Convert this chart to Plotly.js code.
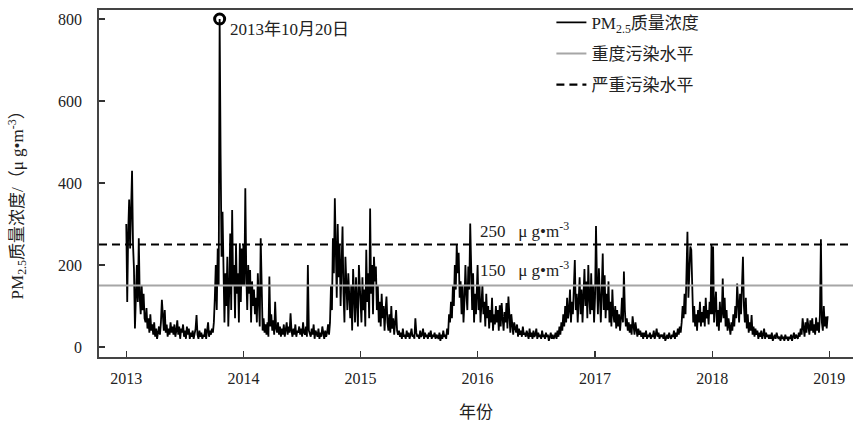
<!DOCTYPE html>
<html>
<head>
<meta charset="utf-8">
<script src="https://cdn.plot.ly/plotly-3.0.1.min.js"></script>
<style>html,body{margin:0;padding:0;background:#fff;}#chart{width:853px;height:425px;}</style>
</head>
<body>
<div id="chart"></div>
<script>
// PM2.5 daily concentration (sampled every 3 days), one array per year
const years = [2013, 2014, 2015, 2016, 2017, 2018];
const pm2013 = [300,110,280,360,240,380,430,250,190,45,160,
  200,110,265,120,80,150,90,130,70,
  60,95,45,70,35,80,40,55,30,60,
  25,45,20,35,50,30,60,115,70,40,
  90,35,55,25,45,30,60,35,50,30,
  55,25,40,65,30,50,20,45,35,55,
  25,40,20,50,30,45,20,35,25,40,
  20,35,45,78,30,20,40,25,35,20,
  30,25,45,20,35,60,25,40,30,45,
  35,60,120,200,90,240,150,800,470,220,330,
  120,60,180,100,220,50,140,277,90,334,150,
  200,70,250,130,180,60,253,110,240,150];
const pm2014 = [250,150,387,180,90,200,130,188,60,160,100,
  140,80,120,60,180,100,50,265,90,
  40,70,35,55,30,60,25,172,50,80,
  40,65,30,110,45,35,60,30,50,25,
  45,30,55,25,40,60,30,50,35,82,
  40,25,45,30,55,25,40,35,50,30,
  45,25,60,35,30,50,25,200,40,30,
  25,45,30,55,20,40,30,25,45,20,
  35,25,50,30,20,40,25,35,55,30,
  60,150,90,265,180,363,240,120,300,170,250,
  100,200,294,130,60,220,140,90,180,110,70,
  150,40,190,100,60,170,120,50,200];
const pm2015 = [120,60,170,90,140,50,237,110,180,70,338,
  130,200,80,220,160,196,90,150,60,
  110,50,130,70,100,40,90,123,60,40,
  80,35,100,45,70,30,60,90,40,30,
  40,25,35,20,45,25,30,20,40,25,
  35,20,30,45,25,30,20,70,35,25,
  30,20,40,25,30,45,20,35,25,30,
  20,35,25,40,20,30,25,35,20,30,
  25,20,35,15,30,20,40,25,30,20,
  45,30,80,60,110,70,150,100,200,140,250,
  180,230,120,160,80,150,60,110,200,130,90,
  196,140,301,150,90,180,60,130,80,150];
const pm2016 = [200,90,150,60,120,151,80,110,50,130,70,
  100,45,90,60,120,40,80,55,100,
  60,90,40,102,50,107,70,40,85,60,
  107,45,123,60,35,80,45,30,60,40,
  35,55,25,45,30,40,25,50,30,35,
  25,40,30,20,45,25,35,20,40,25,
  30,45,20,35,25,30,20,40,25,30,
  20,35,25,30,15,25,35,20,30,20,
  25,35,20,40,25,50,30,60,40,80,
  50,100,60,120,70,90,140,60,110,80,150,
  212,90,130,60,110,170,80,140,60,120,190,
  100,160,70,200,120,80,180,90,150,60];
const pm2017 = [120,295,160,80,192,110,60,140,228,90,175,
  70,130,90,160,60,110,50,140,80,
  60,100,45,90,50,80,40,70,120,60,
  184,90,50,70,40,60,35,55,30,75,
  45,30,60,35,25,45,30,40,25,35,
  20,35,25,40,20,30,25,35,20,30,
  25,40,20,30,45,25,35,20,30,25,
  30,20,35,15,25,30,20,35,25,20,
  30,25,40,20,35,25,45,30,50,35,
  60,100,70,130,80,160,281,120,200,245,237,
  150,60,100,50,80,40,90,60,110,50,85,
  60,100,50,120,70,90,55,110,80,249];
const pm2018 = [80,245,60,100,135,50,90,40,110,60,80,
  167,70,120,50,90,40,70,55,30,
  60,40,80,50,100,70,155,90,60,130,
  80,150,220,100,60,120,45,80,35,60,
  40,78,30,50,25,45,30,40,20,35,
  25,40,20,30,45,20,35,25,30,20,
  30,20,35,15,25,30,20,35,25,20,
  25,15,30,20,25,15,30,20,25,15,
  25,20,30,15,25,35,20,30,25,20,
  35,25,45,30,70,40,25,60,35,70,40,
  30,65,40,70,35,55,30,72,40,60,35,
  80,263,60,40,100,50,74,45,75];
const seriesByYear = [pm2013, pm2014, pm2015, pm2016, pm2017, pm2018];
const stepDays = 3;

const levelHeavy = 150;   // 重度污染水平
const levelSevere = 250;  // 严重污染水平
const peakLabel = '2013年10月20日';
const xTickYears = ['2013','2014','2015','2016','2017','2018','2019'];

// Build dated series
function iso(d){ return d.toISOString().slice(0,10); }
const xs = [], ys = [];
years.forEach((yr, k) => {
  const arr = seriesByYear[k];
  const start = Date.UTC(yr, 0, 1);
  arr.forEach((v, i) => {
    xs.push(iso(new Date(start + i * stepDays * 86400000)));
    ys.push(v);
  });
});
let peakIdx = 0;
ys.forEach((v, i) => { if (v > ys[peakIdx]) peakIdx = i; });

const xRange = ['2012-10-08', '2019-03-16'];
const fontFam = '"Liberation Serif", "Times New Roman", "Noto Sans CJK SC", serif';
const txtCol = '#222';

const traces = [
  {x: xs, y: ys, type: 'scatter', mode: 'lines', name: 'PM<sub>2.5</sub>质量浓度',
   line: {color: '#000', width: 1.8}, legendgroup: 'a'},
  {x: xRange, y: [levelHeavy, levelHeavy], type: 'scatter', mode: 'lines', name: '重度污染水平',
   line: {color: '#a6a6a6', width: 2}, legendgroup: 'b'},
  {x: xRange, y: [levelSevere, levelSevere], type: 'scatter', mode: 'lines', name: '严重污染水平',
   line: {color: '#000', width: 2.2, dash: '8px,5px'}, legendgroup: 'c'},
  {x: [xs[peakIdx]], y: [ys[peakIdx]], type: 'scatter', mode: 'markers', showlegend: false,
   marker: {symbol: 'circle-open', size: 10, color: '#000', line: {width: 3, color: '#000'}}}
];

const layout = {
  width: 853, height: 425,
  margin: {l: 99, r: 0, t: 10, b: 68},
  paper_bgcolor: '#fff', plot_bgcolor: '#fff',
  font: {family: fontFam, size: 16, color: txtCol},
  showlegend: true,
  legend: {x: 0.6, y: 1.015, xanchor: 'left', yanchor: 'top', bgcolor: 'rgba(0,0,0,0)',
    font: {family: fontFam, size: 17, color: txtCol}, tracegroupgap: 6},
  xaxis: {type: 'date', range: xRange, tickvals: xTickYears.map(y => y + '-01-01'), ticktext: xTickYears,
    ticks: 'inside', ticklen: 6, tickwidth: 1.2, tickcolor: '#333',
    showline: true, linecolor: '#444', linewidth: 1.8, mirror: true, showgrid: false, zeroline: false,
    tickfont: {size: 16, color: txtCol}, ticklabelstandoff: 6,
    title: {text: '年份', font: {size: 17, color: txtCol}, standoff: 20}},
  yaxis: {range: [-24.4, 822], tickvals: [0, 200, 400, 600, 800],
    ticks: 'inside', ticklen: 6, tickwidth: 1.2, tickcolor: '#333',
    showline: true, linecolor: '#444', linewidth: 1.8, mirror: false, showgrid: false, zeroline: false,
    tickfont: {size: 16, color: txtCol}, ticklabelstandoff: 12},
  annotations: [
    {x: -0.108, y: 0.45, xref: 'paper', yref: 'paper', textangle: -90,
     text: 'PM<sub>2.5</sub>质量浓度/（μ g•m<sup>-3</sup>）', showarrow: false,
     xanchor: 'center', yanchor: 'middle', font: {size: 17, color: txtCol}},
    {x: xs[peakIdx], y: ys[peakIdx], xref: 'x', yref: 'y', text: peakLabel, showarrow: false,
     xanchor: 'left', yanchor: 'middle', xshift: 8, yshift: -10, font: {size: 17, color: txtCol}},
    {x: '2016-01-01', y: levelSevere, xref: 'x', yref: 'y', text: '250&nbsp;&nbsp;&nbsp;μ&nbsp;g•m<sup>-3</sup>', showarrow: false,
     xanchor: 'left', yanchor: 'bottom', yshift: 2, font: {size: 17, color: txtCol}},
    {x: '2016-01-01', y: levelHeavy, xref: 'x', yref: 'y', text: '150&nbsp;&nbsp;&nbsp;μ&nbsp;g•m<sup>-3</sup>', showarrow: false,
     xanchor: 'left', yanchor: 'bottom', yshift: 4, font: {size: 17, color: txtCol}}
  ]
};

Plotly.newPlot('chart', traces, layout, {displayModeBar: false, staticPlot: true});
</script>
</body>
</html>
